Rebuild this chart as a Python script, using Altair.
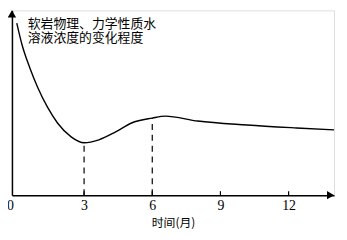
import altair as alt
import pandas as pd

# curve (months, relative level)
months = [0.04, 0.26, 0.61, 0.96, 1.39, 1.83, 2.43, 3.0, 3.65, 4.39, 5.09, 6.0, 6.57, 8.0, 10.17, 12.35, 14.0]
level = [174, 153, 129, 109, 89, 73, 59, 53, 56, 64, 73, 78, 80, 75, 71, 68, 66]

tick_values = [0, 3, 6, 9, 12]
minor_ticks = [3, 6, 9, 12]
marker_months = [3, 6]
marker_levels = [53, 78]

y_label_lines = ["软岩物理、力学性质水", "溶液浓度的变化程度"]
x_title = "时间(月)"

XMIN, XMAX = -0.174, 14.0
YMIN, YMAX = 0, 187
W, H = 326, 187
PX = (XMAX - XMIN) / W  # months per pixel

curve = pd.DataFrame({"m": months, "v": level})
markers = pd.DataFrame({"m": marker_months, "v": marker_levels, "z": [0, 0]})
ticks = pd.DataFrame({"m": minor_ticks, "z": [0] * len(minor_ticks), "t": [4] * len(minor_ticks)})

xscale = alt.Scale(domain=[XMIN, XMAX], nice=False, zero=False)
yscale = alt.Scale(domain=[YMIN, YMAX], nice=False, zero=False)

xaxis = alt.Axis(
    values=tick_values, ticks=False, grid=False, domain=True, domainColor="black",
    domainWidth=1.5, labelFont="Liberation Serif", labelFontSize=14, labelColor="black",
    labelPadding=4, labelOffset={"condition": {"test": "datum.value === 0", "value": -6}, "value": 0},
    title=x_title, titleFont="Noto Sans CJK SC", titleFontSize=12, titleFontWeight="normal",
    titleColor="black", titlePadding=5,
)
yaxis = alt.Axis(ticks=False, labels=False, grid=False, domain=True, domainColor="black",
                 domainWidth=1.5, title=None)

base_line = alt.Chart(curve).mark_line(color="black", strokeWidth=1.4, interpolate="monotone").encode(
    x=alt.X("m:Q", scale=xscale, axis=xaxis),
    y=alt.Y("v:Q", scale=yscale, axis=yaxis),
)

dashes = alt.Chart(markers).mark_rule(color="black", strokeWidth=1.2, strokeDash=[6, 5]).encode(
    x=alt.X("m:Q", scale=xscale), y=alt.Y("z:Q", scale=yscale), y2="v:Q"
)

tick_marks = alt.Chart(ticks).mark_rule(color="black", strokeWidth=1.2).encode(
    x=alt.X("m:Q", scale=xscale), y=alt.Y("z:Q", scale=yscale), y2="t:Q"
)

# arrowheads at the axis ends
arrow_df = pd.DataFrame({
    "am": [XMIN, XMAX - 3.5 * PX],
    "av": [YMAX - 3.5, YMIN],
    "shape": ["triangle-up", "triangle-right"],
})
arrows = alt.Chart(arrow_df).mark_point(filled=True, opacity=1, clip=False).encode(
    x=alt.X("am:Q", scale=xscale),
    y=alt.Y("av:Q", scale=yscale),
    shape=alt.Shape("shape:N", scale=None, legend=None),
    size=alt.value(70),
    color=alt.value("black"),
)

# y-axis description, placed in data coordinates near the top-left
label_df = pd.DataFrame({
    "lx": [XMIN + 16 * PX, XMIN + 16 * PX],
    "ly": [YMAX - 14, YMAX - 28.5],
    "t": y_label_lines,
})
labels = alt.Chart(label_df).mark_text(
    align="left", baseline="middle", font="Noto Sans CJK SC", fontSize=13, color="black"
).encode(x=alt.X("lx:Q", scale=xscale), y=alt.Y("ly:Q", scale=yscale), text="t:N")

chart = alt.layer(base_line, dashes, tick_marks, arrows, labels).properties(
    width=W, height=H,
    autosize=alt.AutoSizeParams(type="none"),
    padding={"left": 4, "top": 1, "right": 5, "bottom": 44},
).configure_view(stroke=None).configure(background="white")

chart.save("out.html", embed_options={"renderer": "svg", "actions": False})
